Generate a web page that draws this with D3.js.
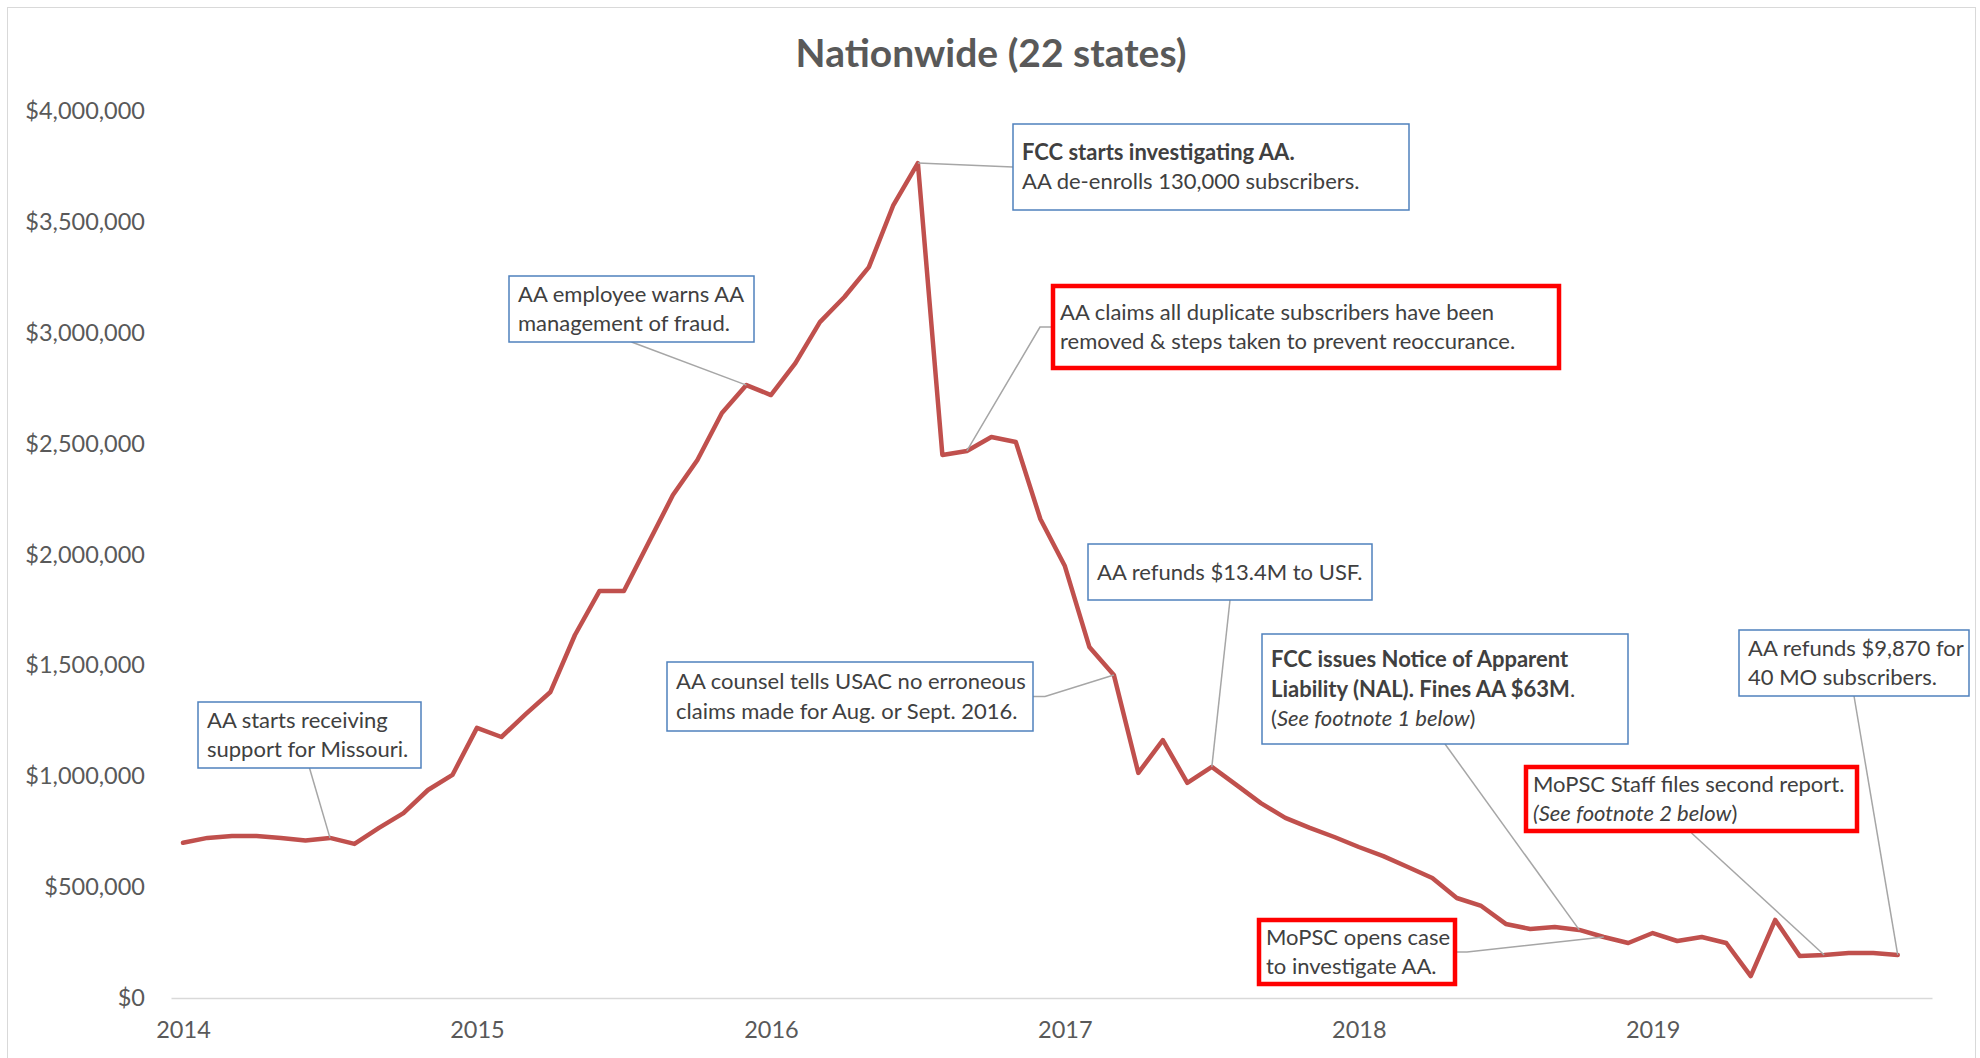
<!DOCTYPE html>
<html>
<head>
<meta charset="utf-8">
<script src="https://cdn.jsdelivr.net/npm/d3@7"></script>
<style>
  body { margin: 0; background: #fff; }
  text { font-family: Lato, "Open Sans", sans-serif; }
</style>
</head>
<body>
<div id="chart"></div>
<script>
// monthly categories, Jan 2014 .. Nov 2019
var months = [
  "2014-01","2014-02","2014-03","2014-04","2014-05","2014-06","2014-07","2014-08","2014-09","2014-10","2014-11","2014-12",
  "2015-01","2015-02","2015-03","2015-04","2015-05","2015-06","2015-07","2015-08","2015-09","2015-10","2015-11","2015-12",
  "2016-01","2016-02","2016-03","2016-04","2016-05","2016-06","2016-07","2016-08","2016-09","2016-10","2016-11","2016-12",
  "2017-01","2017-02","2017-03","2017-04","2017-05","2017-06","2017-07","2017-08","2017-09","2017-10","2017-11","2017-12",
  "2018-01","2018-02","2018-03","2018-04","2018-05","2018-06","2018-07","2018-08","2018-09","2018-10","2018-11","2018-12",
  "2019-01","2019-02","2019-03","2019-04","2019-05","2019-06","2019-07","2019-08","2019-09","2019-10","2019-11"
];

// monthly support (USD)
var support = [
  700000, 722000, 731000, 731000, 722000, 710000, 722000, 695000, 767000, 834000, 938000, 1006000,
  1218000, 1177000, 1281000, 1380000, 1637000, 1835000, 1835000, 2052000, 2268000, 2426000, 2638000, 2764000,
  2719000, 2863000, 3048000, 3161000, 3296000, 3576000, 3765000, 2449000, 2467000, 2530000, 2507000, 2160000,
  1948000, 1583000, 1457000, 1015000, 1163000, 970000, 1042000, 961000, 879000, 812000, 767000, 726000,
  681000, 640000, 591000, 541000, 451000, 415000, 334000, 311000, 320000, 307000, 275000, 248000,
  293000, 257000, 275000, 248000, 99000, 352000, 189000, 194000, 203000, 203000, 194000
];

var yTicks = [0, 500000, 1000000, 1500000, 2000000, 2500000, 3000000, 3500000, 4000000];
var yearTicks = ["2014-01", "2015-01", "2016-01", "2017-01", "2018-01", "2019-01"];
var yearLabels = ["2014", "2015", "2016", "2017", "2018", "2019"];

// callouts: month pointed at, and text lines as [text, style] segments
var noteMonths = ["2014-07", "2015-12", "2016-07", "2016-09", "2017-03", "2017-07", "2018-10", "2018-11", "2019-08", "2019-11"];
var noteLines = [
  [[["AA starts receiving"]], [["support for Missouri."]]],
  [[["AA employee warns AA"]], [["management of fraud."]]],
  [[["FCC starts investigating AA.", "b"]], [["AA de-enrolls 130,000 subscribers."]]],
  [[["AA claims all duplicate subscribers have been"]], [["removed & steps taken to prevent reoccurance."]]],
  [[["AA counsel tells USAC no erroneous"]], [["claims made for Aug. or Sept. 2016."]]],
  [[["AA refunds $13.4M to USF."]]],
  [[["FCC issues Notice of Apparent", "b"]], [["Liability (NAL). Fines AA $63M", "b"], ["."]], [["("], ["See footnote 1 below", "i"], [")"]]],
  [[["MoPSC opens case"]], [["to investigate AA."]]],
  [[["MoPSC Staff files second report."]], [["(See footnote 2 below", "i"], [")"]]],
  [[["AA refunds $9,870 for"]], [["40 MO subscribers."]]]
];
var noteRed = [false, false, false, true, false, false, false, true, true, false];

function init() {
  var w = 1980;
  var h = 1058;

  var svg = d3.select("#chart")
    .append("svg")
    .attr("width", w)
    .attr("height", h);

  // chart border
  svg.append("rect")
    .attr("x", 7.5).attr("y", 7.5)
    .attr("width", 1968).attr("height", 1060)
    .attr("fill", "none")
    .attr("stroke", "#d9d9d9")
    .attr("stroke-width", 1);

  // title
  svg.append("text")
    .attr("x", 991)
    .attr("y", 53)
    .attr("dy", "0.35em")
    .attr("text-anchor", "middle")
    .attr("font-size", "39px")
    .attr("font-weight", "bold")
    .attr("fill", "#595959")
    .text("Nationwide (22 states)");

  // scales (x by month index)
  var x = d3.scaleLinear()
    .domain([-0.49, 71.4])
    .range([171, 1932]);

  var y = d3.scaleLinear()
    .domain([0, 4000000])
    .range([998, 111]);

  // y axis
  var yAxis = d3.axisLeft(y)
    .tickValues(yTicks)
    .tickFormat(d3.format("$,"))
    .tickSize(0)
    .tickPadding(10);

  var gy = svg.append("g")
    .attr("transform", "translate(155,0)")
    .call(yAxis);
  gy.select(".domain").remove();
  gy.selectAll("text")
    .attr("font-family", "Lato, sans-serif")
    .attr("font-size", "23.5px")
    .attr("fill", "#595959");

  // x axis
  var xAxis = d3.axisBottom(x)
    .tickValues(yearTicks.map(function(m) { return months.indexOf(m); }))
    .tickFormat(function(d, i) { return yearLabels[i]; })
    .tickSize(0)
    .tickSizeOuter(0)
    .tickPadding(23);

  var gx = svg.append("g")
    .attr("transform", "translate(0," + y(0) + ")")
    .call(xAxis);
  gx.select(".domain")
    .attr("stroke", "#d9d9d9")
    .attr("stroke-width", 1.5);
  gx.selectAll("text")
    .attr("font-family", "Lato, sans-serif")
    .attr("font-size", "23.5px")
    .attr("fill", "#595959");

  // line
  var line = d3.line()
    .x(function(d, i) { return x(i); })
    .y(function(d) { return y(d); });

  svg.append("path")
    .datum(support)
    .attr("d", line)
    .attr("fill", "none")
    .attr("stroke", "#c0504d")
    .attr("stroke-width", 4.5)
    .attr("stroke-linejoin", "round")
    .attr("stroke-linecap", "round");

  // callout boxes (left, top, width, height, where the leader leaves)
  var boxes = [
    {l: 198, t: 702, w: 223, h: 66, side: "bottom"},
    {l: 509, t: 276, w: 245, h: 66, side: "bottom"},
    {l: 1013, t: 124, w: 396, h: 86, side: "left"},
    {l: 1051, t: 284, w: 510, h: 86, side: "left", elbow: 11},
    {l: 667, t: 662, w: 366, h: 69, side: "right", elbow: 12},
    {l: 1088, t: 544, w: 284, h: 56, side: "bottom"},
    {l: 1262, t: 634, w: 366, h: 110, side: "bottom"},
    {l: 1257, t: 918, w: 200, h: 68, side: "right", elbow: 10},
    {l: 1524, t: 765, w: 335, h: 68, side: "bottom"},
    {l: 1739, t: 630, w: 230, h: 66, side: "bottom"}
  ];

  var lineH = 29.5;

  boxes.forEach(function(b, k) {
    var idx = months.indexOf(noteMonths[k]);
    var px = x(idx), py = y(support[idx]);
    var pts;
    if (b.side === "bottom") {
      pts = [[b.l + b.w / 2, b.t + b.h], [px, py]];
    } else if (b.side === "left") {
      var sy = b.t + b.h / 2;
      pts = b.elbow ? [[b.l, sy], [b.l - b.elbow, sy], [px, py]] : [[b.l, sy], [px, py]];
    } else {
      var ry = b.t + b.h / 2;
      pts = [[b.l + b.w, ry], [b.l + b.w + b.elbow, ry], [px, py]];
    }
    svg.append("path")
      .attr("d", d3.line()(pts))
      .attr("fill", "none")
      .attr("stroke", "#a6a6a6")
      .attr("stroke-width", 1.5);
  });

  boxes.forEach(function(b, k) {
    var red = noteRed[k];
    var g = svg.append("g");
    g.append("rect")
      .attr("x", b.l + (red ? 2 : 0))
      .attr("y", b.t + (red ? 2 : 0))
      .attr("width", b.w - (red ? 4 : 0))
      .attr("height", b.h - (red ? 4 : 0))
      .attr("fill", "#fff")
      .attr("stroke", red ? "#ff0000" : "#4f81bd")
      .attr("stroke-width", red ? 4.5 : 1.5);

    var lines = noteLines[k];
    var cy = b.t + b.h / 2;
    var top = cy - (lines.length - 1) * lineH / 2;
    lines.forEach(function(segs, j) {
      var t = g.append("text")
        .attr("x", b.l + 9)
        .attr("y", top + j * lineH)
        .attr("dy", "0.35em")
        .attr("font-size", "22px")
        .attr("fill", "#404040");
      segs.forEach(function(s) {
        t.append("tspan")
          .attr("font-weight", s[1] === "b" ? "bold" : "normal")
          .attr("font-style", s[1] === "i" ? "italic" : "normal")
          .text(s[0]);
      });
    });
  });
}

window.onload = init;
</script>
</body>
</html>
